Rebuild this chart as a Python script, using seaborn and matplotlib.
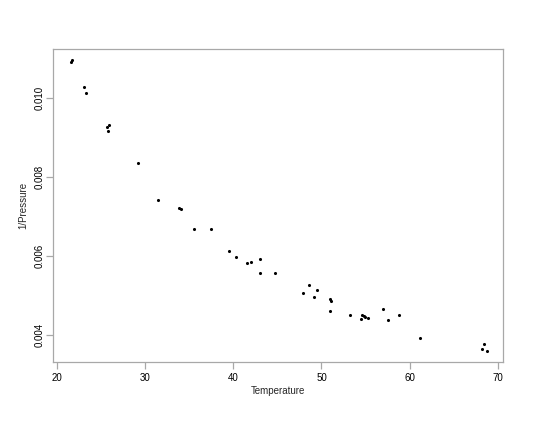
import matplotlib
matplotlib.use('Agg')
from matplotlib import pyplot as plt
import pandas as pd
import seaborn as sns

# values
temperature = [21.59, 21.70, 23.04, 23.37, 25.64, 25.96, 25.84, 29.26, 31.53,
               33.87, 34.13, 35.52, 37.51, 39.57, 40.36, 41.52, 42.04, 42.99,
               43.06, 44.76, 48.63, 47.93, 49.51, 49.20, 50.99, 51.10, 50.92,
               53.25, 54.63, 54.50, 54.78, 54.97, 55.29, 56.99, 57.58, 58.80,
               61.22, 68.47, 68.20, 68.77]
inv_pressure = [0.010896, 0.010947, 0.010263, 0.010111, 0.009251, 0.009301,
                0.009149, 0.008339, 0.007403, 0.007200, 0.007170, 0.006668,
                0.006668, 0.006111, 0.005959, 0.005808, 0.005833, 0.005909,
                0.005554, 0.005554, 0.005251, 0.005048, 0.005124, 0.004947,
                0.004896, 0.004846, 0.004592, 0.004491, 0.004491, 0.004390,
                0.004466, 0.004461, 0.004415, 0.004643, 0.004365, 0.004491,
                0.003909, 0.003757, 0.003630, 0.003595]
x_ticks = [20, 30, 40, 50, 60, 70]
y_ticks = [0.004, 0.006, 0.008, 0.010]
y_tick_labels = ['0.004', '0.006', '0.008', '0.010']

df = pd.DataFrame({'Temperature': temperature, '1/Pressure': inv_pressure})

sns.set_style('white')
plt.rcParams['font.family'] = ['Liberation Sans', 'DejaVu Sans']

fig = plt.figure(figsize=(5.5, 4.25), dpi=100)
ax = fig.add_axes([0.0969, 0.1482, 0.8176, 0.7365])

sns.scatterplot(data=df, x='Temperature', y='1/Pressure', ax=ax,
                color='black', s=5, linewidth=0, marker='o')

ax.set_xlim(19.61, 70.57)
ax.set_ylim(0.003309, 0.011233)
ax.set_xticks(x_ticks)
ax.set_xticklabels([str(t) for t in x_ticks])
ax.set_yticks(y_ticks)
ax.set_yticklabels(y_tick_labels, rotation=90, va='center')

box_col = '#a8a8a8'
for sp in ax.spines.values():
    sp.set_color(box_col)
    sp.set_linewidth(0.9)

ax.tick_params(axis='both', direction='out', length=5, width=0.9,
               color=box_col, labelsize=7, labelcolor='black',
               bottom=True, left=True)
ax.tick_params(axis='x', pad=3)
ax.tick_params(axis='y', pad=1.5)

ax.set_xlabel('Temperature', fontsize=7, labelpad=2)
ax.set_ylabel('1/Pressure', fontsize=7, labelpad=4.5)
ax.grid(False)

plt.savefig('out.png', dpi=100)
plt.close(fig)
